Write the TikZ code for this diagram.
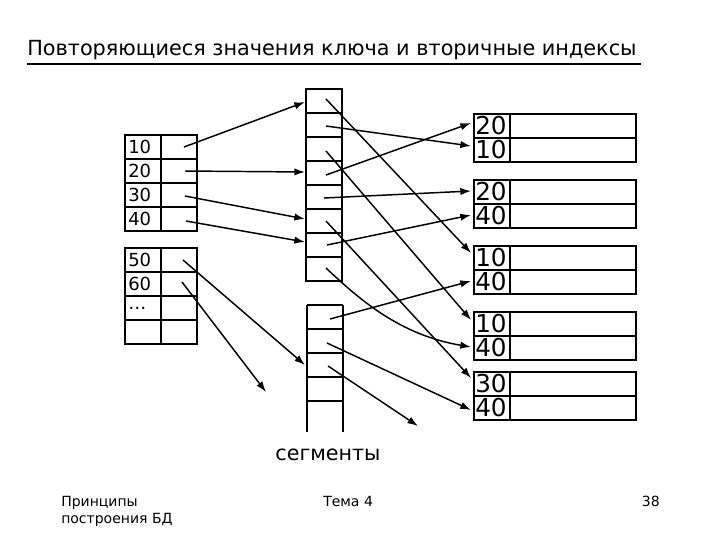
\documentclass[tikz,border=0pt]{standalone}
\usepackage{fontspec}
\setmainfont{DejaVu Sans}
\usetikzlibrary{arrows.meta}
\begin{document}
\begin{tikzpicture}[x=0.75pt,y=-0.75pt,
  cell/.style={draw,line width=0.8pt},
  arr/.style={draw,line width=1.1pt,-{Latex[length=8pt,width=5.5pt]}},
  num/.style={anchor=west,inner sep=0pt,font=\fontsize{13.5}{14}\selectfont},
  big/.style={anchor=west,inner sep=0pt,font=\fontsize{18.5}{19}\selectfont}]
\useasboundingbox (0,0) rectangle (720,540);
% title
\node[anchor=west,inner sep=0pt,font=\fontsize{15.6}{17}\selectfont] (title) at (27,50) {Повторяющиеся значения ключа и вторичные индексы};
\draw[line width=0.8pt] (27,64) -- (641,64);
% left table 1
\foreach \i/\t in {0/10,1/20,2/30,3/40}{
  \draw[cell] (125,135+24*\i) rectangle (161,159+24*\i);
  \draw[cell] (161,135+24*\i) rectangle (197,159+24*\i);
  \node[num] (la\i) at (128,147+24*\i) {\t};
}
\foreach \i/\t in {0/50,1/60,2/{\ldots},3/{}}{
  \draw[cell] (125,248+24*\i) rectangle (161,272+24*\i);
  \draw[cell] (161,248+24*\i) rectangle (197,272+24*\i);
  \node[num] (lb\i) at (128,260+24*\i) {\t};
}
% column 1
\foreach \i in {0,...,7}{\draw[cell] (306,89+24*\i) rectangle (342,113+24*\i);}
% column 2
\foreach \i in {0,...,4}{\draw[cell] (307,305+24*\i) -- (343,305+24*\i);}
\draw[cell] (307,305) -- (307,432) (343,305) -- (343,432);
% right boxes
\foreach \y/\a/\b [count=\k] in {114/20/10,180/20/40,246/10/40,312/10/40,372/30/40}{
  \draw[cell] (474,\y) rectangle (636,\y+48);
  \draw[cell] (474,\y+24) -- (636,\y+24);
  \draw[cell] (510,\y) -- (510,\y+48);
  \node[big] (r\k a) at (475,\y+12) {\a};
  \node[big] (r\k b) at (475,\y+36) {\b};
}
% coordinates
\coordinate (s10) at (184,147); \coordinate (s20) at (185,171);
\coordinate (s30) at (185,196); \coordinate (s40) at (186,221);
\coordinate (s50) at (183,260); \coordinate (s60) at (182,282);
\coordinate (c1) at (326,99); \coordinate (c2) at (326,126);
\coordinate (c3) at (326,151); \coordinate (c4) at (326,175);
\coordinate (c5) at (324,198); \coordinate (c6) at (326,221);
\coordinate (c7) at (327,245); \coordinate (c8) at (326,268);
\coordinate (d1) at (330,319); \coordinate (d2) at (327,343);
\coordinate (d3) at (328,366);
\coordinate (t10) at (305,102); \coordinate (t20) at (305,172);
\coordinate (t30) at (305,219); \coordinate (t40) at (305,242);
\coordinate (t50) at (305,365); \coordinate (t60) at (266,392);
\coordinate (e1a) at (471,123); \coordinate (e1b) at (471,146);
\coordinate (e2a) at (471,191); \coordinate (e2b) at (471,215);
\coordinate (e3a) at (471,253); \coordinate (e3b) at (471,281);
\coordinate (e4a) at (471,320); \coordinate (e4b) at (471,347);
\coordinate (e5a) at (471,378); \coordinate (e5b) at (471,410);
\coordinate (free) at (418,426);
% arrows
\draw[arr] (s10) -- (t10);
\draw[arr] (s20) -- (t20);
\draw[arr] (s30) -- (t30);
\draw[arr] (s40) -- (t40);
\draw[arr] (s50) -- (t50);
\draw[arr] (s60) -- (t60);
\draw[arr] (c1) -- (e3a);
\draw[arr] (c2) -- (e1b);
\draw[arr] (c3) -- (e4a);
\draw[arr] (c4) -- (e1a);
\draw[arr] (c5) -- (e2a);
\draw[arr] (c6) -- (e5a);
\draw[arr] (c7) -- (e2b);
\draw[arr] (c8) .. controls (360,300) and (400,335) .. (e4b);
\draw[arr] (d1) -- (e3b);
\draw[arr] (d2) -- (e5b);
\draw[arr] (d3) -- (free);
% labels
\node[inner sep=0pt,font=\fontsize{15.5}{17}\selectfont] (seg) at (328,455) {сегменты};
\node[anchor=north west,align=left,inner sep=0pt,font=\fontsize{10.5}{13}\selectfont] (f1) at (61,496) {Принципы\\построения БД};
\node[anchor=north west,inner sep=0pt,font=\fontsize{10.5}{13}\selectfont] (f2) at (323,496) {Тема 4};
\node[anchor=north east,inner sep=0pt,font=\fontsize{10.5}{13}\selectfont] (f3) at (660,496) {38};
\end{tikzpicture}
\end{document}
